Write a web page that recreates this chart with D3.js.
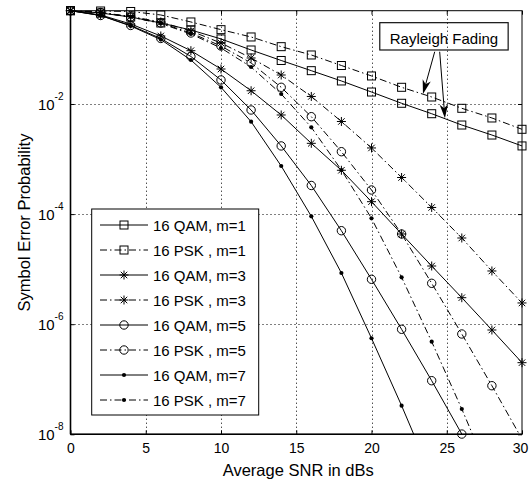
<!DOCTYPE html>
<html>
<head>
<meta charset="utf-8">
<script src="https://cdn.jsdelivr.net/npm/d3@7"></script>
<style>
  html, body { margin: 0; padding: 0; background: #fff; }
  svg { display: block; font-family: "Liberation Sans", Arial, sans-serif; }
</style>
</head>
<body>
<svg id="chart" width="529" height="481"></svg>
<script>
// Average SNR (dB) at which every curve is sampled
const snr = [0, 2, 4, 6, 8, 10, 12, 14, 16, 18, 20, 22, 24, 26, 28, 30];

// Symbol error probability, 16-QAM and 16-PSK, Nakagami m = 1, 3, 5, 7
const qam1 = [0.495, 0.450, 0.380, 0.296, 0.221, 0.152, 0.0957, 0.0617, 0.0403, 0.0262, 0.0165, 0.0103, 0.00666, 0.00415, 0.00273, 0.00173];
const psk1 = [0.495, 0.489, 0.479, 0.414, 0.309, 0.224, 0.165, 0.110, 0.0777, 0.0500, 0.0323, 0.0201, 0.0134, 0.00835, 0.00557, 0.00347];
const qam3 = [0.495, 0.414, 0.284, 0.172, 0.0929, 0.0432, 0.0174, 0.00631, 0.00193, 6.25e-4, 1.68e-4, 4.35e-5, 1.14e-5, 3.03e-6, 7.85e-7, 2.00e-7];
const psk3 = [0.495, 0.459, 0.389, 0.309, 0.212, 0.128, 0.0685, 0.0336, 0.0137, 0.00481, 0.00159, 4.62e-4, 1.32e-4, 3.68e-5, 9.26e-6, 2.43e-6];
const qam5 = [0.495, 0.405, 0.267, 0.155, 0.0729, 0.0273, 0.00778, 0.00173, 3.31e-4, 4.99e-5, 6.54e-6, 8.08e-7, 9.41e-8, 1.01e-8];
const psk5 = [0.495, 0.459, 0.380, 0.296, 0.195, 0.113, 0.0556, 0.0201, 0.00588, 0.00136, 2.74e-4, 4.35e-5, 5.53e-6, 6.64e-7, 7.63e-8, 8.2e-9];
const qam7 = [0.495, 0.405, 0.261, 0.148, 0.0630, 0.0201, 0.00477, 7.48e-4, 9.12e-5, 8.51e-6, 5.55e-7, 3.31e-8, 1.71e-9];
const psk7 = [0.495, 0.459, 0.380, 0.290, 0.187, 0.104, 0.0470, 0.0152, 0.00377, 6.32e-4, 8.39e-5, 7.11e-6, 4.81e-7, 2.88e-8, 1.48e-9];

const seriesNames = ["16 QAM, m=1", "16 PSK , m=1", "16 QAM, m=3", "16 PSK , m=3",
                     "16 QAM, m=5", "16 PSK , m=5", "16 QAM, m=7", "16 PSK , m=7"];
const seriesValues = [qam1, psk1, qam3, psk3, qam5, psk5, qam7, psk7];
const seriesMarkers = ["square", "square", "star", "star", "circle", "circle", "dot", "dot"];
const seriesDashed = [false, true, false, true, false, true, false, true];

// Axis ticks
const xTicks = [0, 5, 10, 15, 20, 25, 30];
const yTicks = [1e-8, 1e-6, 1e-4, 1e-2];

// Annotation: label box corners and arrows (data coordinates)
const annoText = "Rayleigh Fading";
const annoBoxX = [20.55, 29.08];
const annoBoxY = [0.300, 0.0957];
const arrowStarts = [[24.2, 0.089], [24.53, 0.089]];
const arrowTips = [[23.42, 0.0152], [24.88, 0.0055]];

const W = 529, H = 481;
const plot = { left: 70.5, right: 522, top: 10.7, bottom: 434.3 };

const x = d3.scaleLinear().domain([0, 30]).range([plot.left, plot.right]);
const y = d3.scaleLog().domain([1e-8, 0.495]).range([plot.bottom, plot.top]);

const svg = d3.select("#chart");

svg.append("defs").append("clipPath").attr("id", "plotClip")
  .append("rect")
  .attr("x", plot.left).attr("y", plot.top)
  .attr("width", plot.right - plot.left).attr("height", plot.bottom - plot.top);

// Dotted grid
const grid = svg.append("g").attr("stroke", "#000").attr("stroke-width", 1)
  .attr("stroke-dasharray", "1,3").attr("fill", "none");
grid.selectAll("line.gx").data(xTicks.filter(t => t > 0 && t < 30)).join("line")
  .attr("class", "gx")
  .attr("x1", d => Math.round(x(d)) + 0.5).attr("x2", d => Math.round(x(d)) + 0.5)
  .attr("y1", plot.top).attr("y2", plot.bottom);
grid.selectAll("line.gy").data(yTicks.filter(t => t > 1e-8)).join("line")
  .attr("class", "gy")
  .attr("y1", d => Math.round(y(d)) + 0.5).attr("y2", d => Math.round(y(d)) + 0.5)
  .attr("x1", plot.left).attr("x2", plot.right);

// Axes with inward ticks on all four sides
const xAxisB = d3.axisBottom(x).tickValues(xTicks).tickSize(-4).tickSizeOuter(0).tickPadding(9);
const xAxisT = d3.axisTop(x).tickValues(xTicks).tickSize(-4).tickSizeOuter(0).tickFormat("");
const yAxisL = d3.axisLeft(y).tickValues(yTicks).tickSize(-4).tickSizeOuter(0).tickFormat("");
const yAxisR = d3.axisRight(y).tickValues(yTicks).tickSize(-4).tickSizeOuter(0).tickFormat("");

function styleAxis(g) {
  g.select(".domain").remove();
  g.selectAll(".tick line").attr("stroke", "#000");
  g.selectAll(".tick text").attr("fill", "#000").attr("font-size", 14)
    .attr("font-family", "Liberation Sans, Arial, sans-serif");
}
const gxb = svg.append("g").attr("transform", `translate(0,${plot.bottom})`).call(xAxisB).call(styleAxis);
// keep the last label inside the canvas
gxb.selectAll(".tick text").filter(d => d === 30).attr("dx", -2);
svg.append("g").attr("transform", `translate(0,${plot.top})`).call(xAxisT).call(styleAxis);
const gyl = svg.append("g").attr("transform", `translate(${plot.left},0)`).call(yAxisL).call(styleAxis);
svg.append("g").attr("transform", `translate(${plot.right},0)`).call(yAxisR).call(styleAxis);

// Power-of-ten labels on the y axis
gyl.selectAll(".tick").each(function (d) {
  const t = d3.select(this).append("text")
    .attr("x", -7).attr("y", 5.5)
    .attr("text-anchor", "end")
    .attr("fill", "#000")
    .attr("font-size", 15);
  t.append("tspan").text("10");
  t.append("tspan").attr("font-size", 10).attr("dy", -10).text(Math.round(Math.log10(d)));
});

// Frame
svg.append("rect")
  .attr("x", plot.left).attr("y", plot.top)
  .attr("width", plot.right - plot.left).attr("height", plot.bottom - plot.top)
  .attr("fill", "none").attr("stroke", "#000").attr("stroke-width", 1);
svg.append("line").attr("x1", plot.left).attr("x2", plot.left)
  .attr("y1", plot.top).attr("y2", plot.bottom)
  .attr("stroke", "#000").attr("stroke-width", 1.6);
svg.append("line").attr("x1", plot.left).attr("x2", plot.right)
  .attr("y1", plot.bottom).attr("y2", plot.bottom)
  .attr("stroke", "#000").attr("stroke-width", 1.6);

const dashDot = "7,3,1.5,3";

function drawMarker(g, type, cx, cy) {
  if (type === "square") {
    g.append("rect").attr("x", cx - 4).attr("y", cy - 4).attr("width", 8).attr("height", 8)
      .attr("fill", "none").attr("stroke", "#000").attr("stroke-width", 1);
  } else if (type === "circle") {
    g.append("circle").attr("cx", cx).attr("cy", cy).attr("r", 4.2)
      .attr("fill", "none").attr("stroke", "#000").attr("stroke-width", 1);
  } else if (type === "dot") {
    g.append("circle").attr("cx", cx).attr("cy", cy).attr("r", 2.1).attr("fill", "#000");
  } else if (type === "star") {
    const r = 4.5, q = r * 0.72;
    const p = `M${cx - r},${cy}H${cx + r}M${cx},${cy - r}V${cy + r}` +
              `M${cx - q},${cy - q}L${cx + q},${cy + q}M${cx - q},${cy + q}L${cx + q},${cy - q}`;
    g.append("path").attr("d", p).attr("stroke", "#000").attr("stroke-width", 1).attr("fill", "none");
  }
}

// Curves
const line = d3.line().x(d => x(d[0])).y(d => y(d[1]));
const curves = svg.append("g");
seriesValues.forEach((vals, si) => {
  const pts = vals.map((v, i) => [snr[i], v]);
  curves.append("path")
    .attr("d", line(pts))
    .attr("clip-path", "url(#plotClip)")
    .attr("fill", "none").attr("stroke", "#000").attr("stroke-width", 1)
    .attr("stroke-dasharray", seriesDashed[si] ? dashDot : null);
  const mg = curves.append("g");
  pts.filter(p => p[1] >= 0.999e-8).forEach(p => drawMarker(mg, seriesMarkers[si], x(p[0]), y(p[1])));
});

// Axis titles
svg.append("text")
  .attr("x", (plot.left + plot.right) / 2 + 2).attr("y", 476)
  .attr("text-anchor", "middle").attr("font-size", 16.5).attr("fill", "#000")
  .text("Average SNR in dBs");
svg.append("text")
  .attr("transform", `translate(30,${(plot.top + plot.bottom) / 2}) rotate(-90)`)
  .attr("text-anchor", "middle").attr("font-size", 16.5).attr("fill", "#000")
  .text("Symbol Error Probability");

// Annotation
const ann = svg.append("g");
const bx0 = x(annoBoxX[0]), bx1 = x(annoBoxX[1]);
const by0 = y(annoBoxY[0]), by1 = y(annoBoxY[1]);
ann.append("rect").attr("x", bx0).attr("y", by0).attr("width", bx1 - bx0).attr("height", by1 - by0)
  .attr("fill", "none").attr("stroke", "#111").attr("stroke-width", 1.2);
ann.append("text").attr("x", (bx0 + bx1) / 2).attr("y", by1 - 6)
  .attr("text-anchor", "middle").attr("font-size", 15).attr("fill", "#000").text(annoText);
arrowStarts.forEach((s, i) => {
  const x0 = x(s[0]), y0 = y(s[1]);
  const x1 = x(arrowTips[i][0]), y1 = y(arrowTips[i][1]);
  const dx = x1 - x0, dy = y1 - y0, len = Math.hypot(dx, dy);
  const ux = dx / len, uy = dy / len, nx = -uy, ny = ux;
  const hl = 14, hw = 4.2, notch = 4;
  const bxp = x1 - ux * hl, byp = y1 - uy * hl;
  const nxp = x1 - ux * (hl - notch), nyp = y1 - uy * (hl - notch);
  ann.append("line").attr("x1", x0).attr("y1", y0).attr("x2", nxp).attr("y2", nyp)
    .attr("stroke", "#000").attr("stroke-width", 1);
  ann.append("path")
    .attr("d", `M${x1},${y1}L${bxp + nx * hw},${byp + ny * hw}L${nxp},${nyp}L${bxp - nx * hw},${byp - ny * hw}Z`)
    .attr("fill", "#000");
});

// Legend
const leg = { x: 91.7, y: 209, w: 167, h: 206, row0: 225, step: 25 };
const lg = svg.append("g");
lg.append("rect").attr("x", leg.x).attr("y", leg.y).attr("width", leg.w).attr("height", leg.h)
  .attr("fill", "#fff").attr("stroke", "#000").attr("stroke-width", 1);
seriesNames.forEach((name, i) => {
  const ry = leg.row0 + i * leg.step;
  lg.append("line").attr("x1", 100).attr("x2", 148).attr("y1", ry).attr("y2", ry)
    .attr("stroke", "#000").attr("stroke-width", 1)
    .attr("stroke-dasharray", seriesDashed[i] ? dashDot : null);
  drawMarker(lg, seriesMarkers[i], 124, ry);
  lg.append("text").attr("x", 153).attr("y", ry + 5.5)
    .attr("font-size", 15).attr("fill", "#000").text(name);
});
</script>
</body>
</html>
